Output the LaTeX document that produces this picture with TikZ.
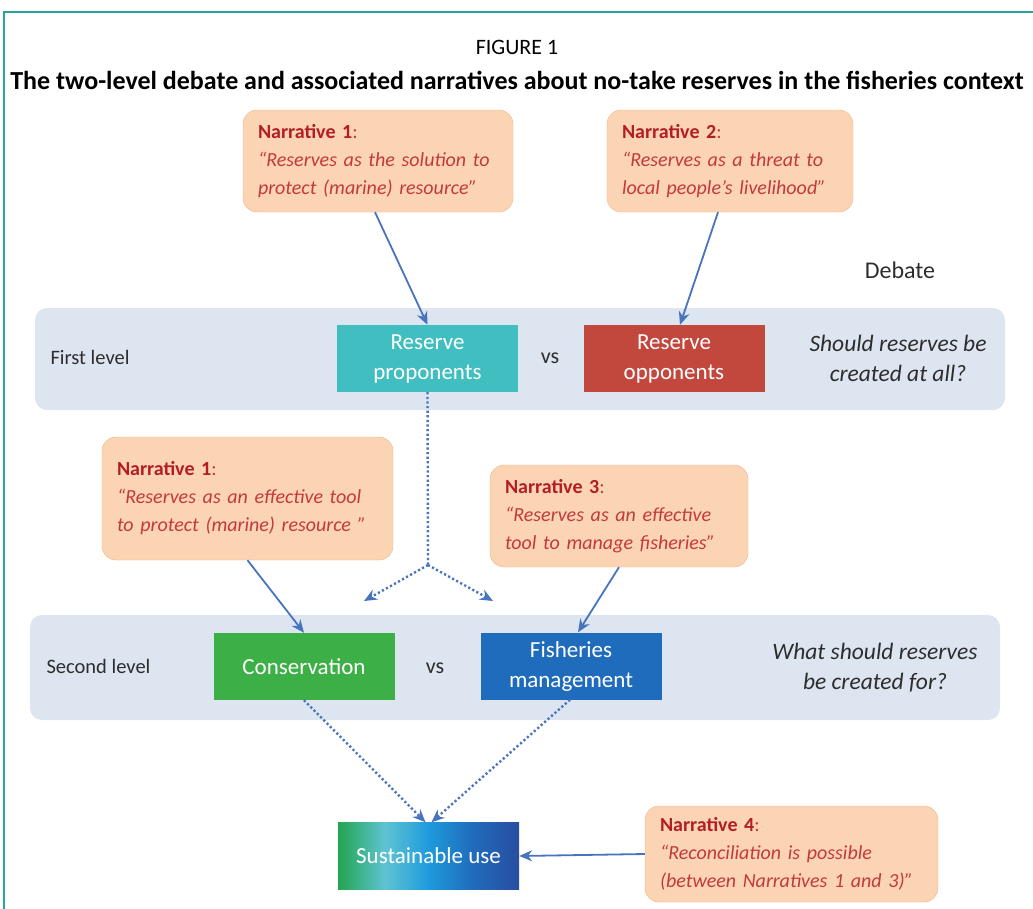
\documentclass[tikz,border=0pt]{standalone}
\usepackage{fontspec}
\setmainfont{Carlito}
\usepackage{xcolor}
\usepackage{tikz}
\usetikzlibrary{arrows.meta}
\usetikzlibrary{positioning}
\usetikzlibrary{shapes}
\definecolor{frameteal}{RGB}{40,165,155}
\definecolor{narrfill}{RGB}{251,212,180}
\definecolor{narrborder}{RGB}{240,178,128}
\definecolor{narrbold}{RGB}{180,30,35}
\definecolor{narrtext}{RGB}{196,58,58}
\definecolor{bandgrey}{RGB}{221,229,240}
\definecolor{proteal}{RGB}{64,190,192}
\definecolor{oppred}{RGB}{194,72,62}
\definecolor{consgreen}{RGB}{60,176,70}
\definecolor{fishblue}{RGB}{32,108,188}
\definecolor{susleft}{RGB}{35,165,80}
\definecolor{suslight}{RGB}{95,195,210}
\definecolor{susmid}{RGB}{30,155,220}
\definecolor{susright}{RGB}{40,78,160}
\definecolor{arrowblue}{RGB}{72,116,190}
\definecolor{labelgrey}{RGB}{45,45,45}
\pgfdeclarehorizontalshading{susshade}{100bp}{color(0bp)=(susleft); color(25bp)=(susleft); color(38bp)=(suslight); color(50bp)=(susmid); color(62bp)=(fishblue); color(75bp)=(susright); color(100bp)=(susright)}
\tikzstyle{narrative} = [rectangle, draw=narrborder, fill=narrfill, rounded corners=14pt, align=left, inner xsep=15pt, text=narrtext, font=\fontsize{20}{28}\selectfont]
\tikzstyle{actor} = [rectangle, align=center, text=white, minimum width=181pt, minimum height=67pt, font=\fontsize{23}{30}\selectfont]
\tikzstyle{band} = [fill=bandgrey, rounded corners=12pt]
\tikzstyle{question} = [align=center, text=labelgrey, font=\fontsize{23.5}{30}\selectfont\itshape]
\tikzstyle{level} = [text=labelgrey, font=\fontsize{20.5}{24}\selectfont]
\tikzstyle{arrow} = [draw, line width=1.8pt, arrowblue, -{Stealth[length=13pt,width=11pt]}]
\tikzstyle{dotarrow} = [arrow, line width=2.4pt, dash pattern=on 2.2pt off 2.4pt]
\newcommand{\narrhead}[1]{{\color{narrbold}\bfseries Narrative~#1}:}

\begin{document}
\begin{tikzpicture}[x=1pt, y=-1pt]
\useasboundingbox (0,0) rectangle (1033,908);
\draw[frameteal, line width=1.5pt] (4,12) rectangle (1060,940);

%% title
\node at (517,47) (fig) {\fontsize{22}{26}\selectfont FIGURE 1};
\node at (517,80) (title) {\fontsize{26}{30}\selectfont\bfseries The two-level debate and associated narratives about no-take reserves in the fisheries context};

%% first level
\fill[band] (35,308) rectangle (1005,410);
\node[level, anchor=west] at (47,357) (first) {First level};
\node[text=labelgrey, font=\fontsize{24}{28}\selectfont] at (900,270) (debate) {Debate};

\node[narrative, minimum width=270pt, minimum height=102pt, text width=240pt] at (378,161) (n1a) {\narrhead{1}\\ \itshape “Reserves as the solution to\\ \itshape protect (marine) resource”};
\node[narrative, minimum width=246pt, minimum height=102pt, text width=216pt] at (730,161) (n2) {\narrhead{2}\\ \itshape “Reserves as a threat to\\ \itshape local people’s livelihood”};

\node[actor, fill=proteal] at (427.5,358.5) (pro) {Reserve\\proponents};
\node[text=labelgrey, font=\fontsize{22}{26}\selectfont] at (550,358) (vs1) {vs};
\node[actor, fill=oppred] at (674,358.5) (opp) {Reserve\\opponents};
\node[question] at (898,358) (q1) {Should reserves be\\created at all?};

\path[arrow] ([xshift=-3]n1a.south) to (pro.north);
\path[arrow] ([xshift=-12]n2.south) to ([xshift=6]opp.north);

%% split
\coordinate (split) at (428,565);
\coordinate (leftend) at (364,601);
\coordinate (rightend) at (493,601);
\draw[dotarrow, -] (pro.south) -- (split);
\path[dotarrow] (split) to (leftend);
\path[dotarrow] (split) to (rightend);

%% second level
\fill[band] (30,615) rectangle (1000,720);
\node[level, anchor=west] at (43,666) (second) {Second level};

\node[narrative, minimum width=291pt, minimum height=123pt, text width=261pt] at (247.5,498.5) (n1b) {\narrhead{1}\\ \itshape “Reserves as an effective tool\\ \itshape to protect (marine) resource ”};
\node[narrative, minimum width=258pt, minimum height=102pt, text width=228pt] at (619,516) (n3) {\narrhead{3}\\ \itshape “Reserves as an effective\\ \itshape tool to manage fisheries”};

\node[actor, fill=consgreen] at (304,666.5) (cons) {Conservation};
\node[text=labelgrey, font=\fontsize{22}{26}\selectfont] at (435,668) (vs2) {vs};
\node[actor, fill=fishblue] at (571,666) (fish) {Fisheries\\management};
\node[question] at (875,668) (q2) {What should reserves\\be created for?};

\path[arrow] (n1b.south) to (cons.north);
\path[arrow] (n3.south) to ([xshift=7]fish.north);

%% sustainable use
\node[actor, shading=susshade] at (428.5,856) (sus) {Sustainable use};
\node[narrative, minimum width=293pt, minimum height=96pt, text width=263pt] at (791.5,854) (n4) {\narrhead{4}\\ \itshape “Reconciliation is possible\\ \itshape (between Narratives 1 and 3)”};

\path[dotarrow] (cons.south) to ([xshift=-3]sus.north);
\path[dotarrow] ([xshift=-1]fish.south) to ([xshift=3]sus.north);
\path[arrow] (n4.west) to (sus.east);

\end{tikzpicture}
\end{document}
